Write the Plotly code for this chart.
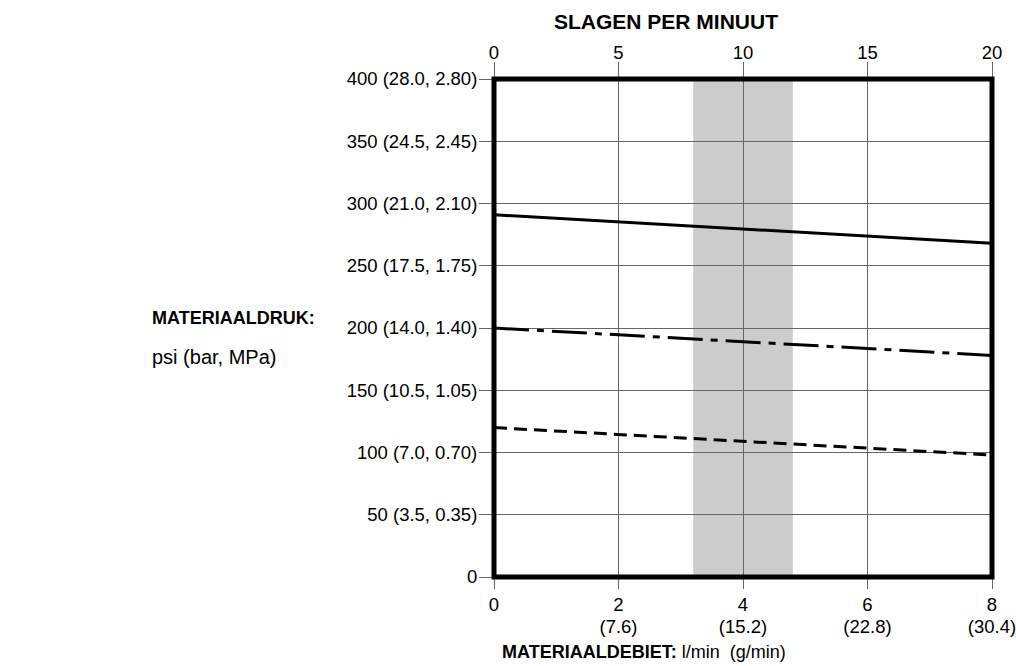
import plotly.graph_objects as go

# Data
flow_lpm = [0, 8]                      # l/min (bottom axis)
solid_psi = [291, 268]
dashdot_psi = [200, 178]
dashed_psi = [120, 98]
band_lpm = [3.2, 4.8]                  # shaded region, l/min

x_ticks = [0, 2, 4, 6, 8]
x_ticktext = ["0", "2", "4", "6", "8"]
x_ticktext_gmin = ["", "(7.6)", "(15.2)", "(22.8)", "(30.4)"]
top_ticks = [0, 5, 10, 15, 20]         # strokes per minute
y_ticks = [0, 50, 100, 150, 200, 250, 300, 350, 400]
y_ticktext = ["0", "50 (3.5, 0.35)", "100 (7.0, 0.70)", "150 (10.5, 1.05)",
              "200 (14.0, 1.40)", "250 (17.5, 1.75)", "300 (21.0, 2.10)",
              "350 (24.5, 2.45)", "400 (28.0, 2.80)"]

FONT = "Liberation Sans, Arial, sans-serif"
TICK = 18.5

# plot area in window pixels
PL, PR, PT, PB = 494, 992, 79, 577
W, H = 1016, 666


def px(x):
    return (x - PL) / (PR - PL)


def py(y):
    return (PB - y) / (PB - PT)


fig = go.Figure()
fig.add_trace(go.Scatter(x=flow_lpm, y=solid_psi, mode="lines",
                         line=dict(color="black", width=3), hoverinfo="skip"))
fig.add_trace(go.Scatter(x=flow_lpm, y=dashdot_psi, mode="lines",
                         line=dict(color="black", width=3, dash="35px,8px,7px,8px"),
                         hoverinfo="skip"))
fig.add_trace(go.Scatter(x=flow_lpm, y=dashed_psi, mode="lines",
                         line=dict(color="black", width=3, dash="13px,7px"),
                         hoverinfo="skip"))
# invisible traces so the extra axes render
fig.add_trace(go.Scatter(x=top_ticks, y=[0] * len(top_ticks), xaxis="x2",
                         mode="markers", marker=dict(size=0, opacity=0),
                         hoverinfo="skip"))
fig.add_trace(go.Scatter(x=x_ticks, y=[0] * len(x_ticks), xaxis="x3",
                         mode="markers", marker=dict(size=0, opacity=0),
                         hoverinfo="skip"))

fig.add_shape(type="rect", xref="x", yref="y domain",
              x0=band_lpm[0], x1=band_lpm[1], y0=0, y1=1,
              fillcolor="#cccccc", line=dict(width=0), layer="below")
fig.add_shape(type="rect", xref="x domain", yref="y domain",
              x0=0, x1=1, y0=0, y1=1,
              line=dict(color="black", width=5), layer="above")

fig.update_layout(
    width=W, height=H,
    margin=dict(l=PL, r=W - PR, t=PT, b=H - PB),
    paper_bgcolor="white", plot_bgcolor="white",
    showlegend=False,
    font=dict(family=FONT, size=TICK, color="black"),
    xaxis=dict(range=[0, 8], tickvals=x_ticks, ticktext=x_ticktext,
               showgrid=True, gridcolor="#666666", gridwidth=1,
               zeroline=False, showline=False, automargin=False,
               ticks="outside", ticklen=11, tickcolor="#666666",
               ticklabeloverflow="allow",
               tickfont=dict(size=TICK, family=FONT)),
    xaxis3=dict(range=[0, 8], tickvals=x_ticks, ticktext=x_ticktext_gmin,
                overlaying="x", side="bottom", anchor="y",
                showgrid=False, zeroline=False, showline=False,
                automargin=False, ticks="", ticklabelstandoff=36,
                ticklabeloverflow="allow",
                tickfont=dict(size=TICK, family=FONT)),
    xaxis2=dict(range=[0, 20], tickvals=top_ticks, overlaying="x",
                side="top", anchor="y", showgrid=False, zeroline=False,
                showline=False, automargin=False, ticks="outside", ticklen=16,
                ticklabelstandoff=-4, ticklabeloverflow="allow",
                tickcolor="#666666", tickfont=dict(size=TICK, family=FONT)),
    yaxis=dict(range=[0, 400], tickvals=y_ticks, ticktext=y_ticktext,
               showgrid=True, gridcolor="#666666", gridwidth=1,
               zeroline=False, showline=False, automargin=False,
               ticks="outside", ticklen=14, ticklabelstandoff=-2,
               tickcolor="#666666",
               tickfont=dict(size=TICK, family=FONT)),
    annotations=[
        dict(text="<b>SLAGEN PER MINUUT</b>", xref="paper", yref="paper",
             x=px(666), y=py(22), xanchor="center", yanchor="middle",
             showarrow=False, font=dict(size=21, family=FONT)),
        dict(text="<b>MATERIAALDEBIET:</b> l/min  (g/min)", xref="paper", yref="paper",
             x=px(500), y=py(652), xanchor="left", yanchor="middle",
             showarrow=False, font=dict(size=18, family=FONT)),
        dict(text="<b>MATERIAALDRUK:</b>", xref="paper", yref="paper",
             x=px(150), y=py(318), xanchor="left", yanchor="middle",
             showarrow=False, font=dict(size=18, family=FONT)),
        dict(text="psi (bar, MPa)", xref="paper", yref="paper",
             x=px(150), y=py(357), xanchor="left", yanchor="middle",
             showarrow=False, font=dict(size=20, family=FONT)),
    ],
)

fig.write_html(
    "out.html",
    config={"displayModeBar": False},
    post_script="document.body.style.margin='0';"
                "document.documentElement.style.overflow='hidden';",
)
